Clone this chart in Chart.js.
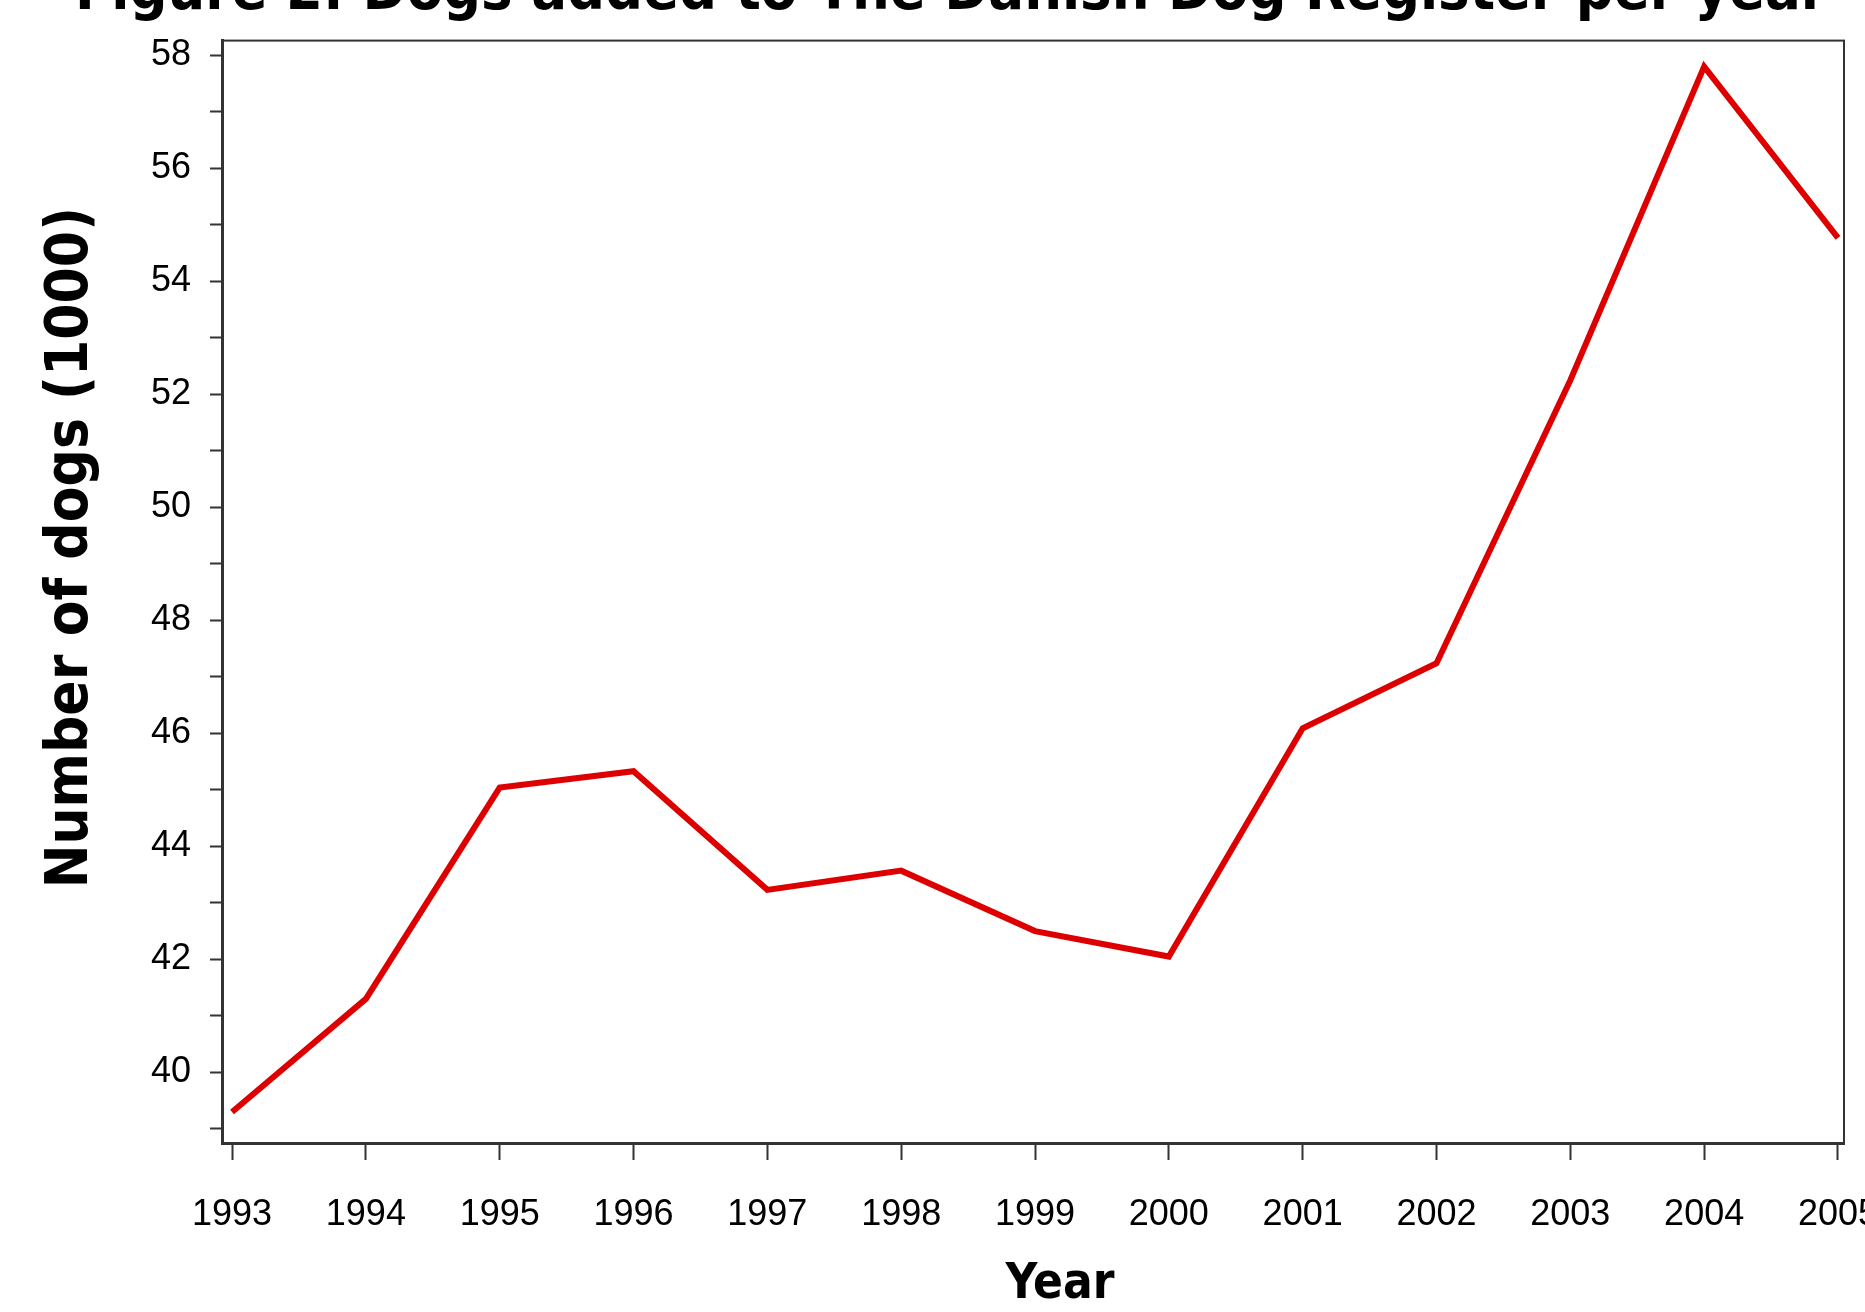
<!DOCTYPE html>
<html>
<head>
<meta charset="utf-8">
<script src="https://cdn.jsdelivr.net/npm/chart.js"></script>
<style>
    html, body { margin: 0; padding: 0; background: #fff; }
    .wrap { width: 1865px; height: 1312px; overflow: hidden; position: relative; }
</style>
</head>
<body>
<div class="wrap">
    <canvas id="dogChart" width="1865" height="1312"></canvas>
</div>
<script>
// Data (thousands of dogs)
const years = [1993, 1994, 1995, 1996, 1997, 1998, 1999, 2000, 2001, 2002, 2003, 2004, 2005];
const dogs = [39.3, 41.3, 45.04, 45.33, 43.23, 43.57, 42.5, 42.05, 46.09, 47.24, 52.25, 57.8, 54.77];
const yTicks = [39, 40, 41, 42, 43, 44, 45, 46, 47, 48, 49, 50, 51, 52, 53, 54, 55, 56, 57, 58];

const titleText = 'Figure 2: Dogs added to The Danish Dog Register per year';
const xTitle = 'Year';
const yTitle = 'Number of dogs (1000)';

const boldFont = '"DejaVu Sans Condensed", "DejaVu Sans", sans-serif';

// frame round the plot + axis titles
const framePlugin = {
    id: 'frame',
    afterDraw(chart) {
        const ctx = chart.ctx;
        const a = chart.chartArea;
        ctx.save();
        ctx.strokeStyle = '#333';
        ctx.lineWidth = 2;
        ctx.strokeRect(a.left, a.top, a.right - a.left, a.bottom - a.top);

        ctx.fillStyle = '#000';
        ctx.font = 'bold 49px ' + boldFont;
        ctx.textAlign = 'center';
        ctx.textBaseline = 'alphabetic';
        ctx.fillText(xTitle, a.left + 838, 1298);

        ctx.font = 'bold 58px ' + boldFont;
        ctx.translate(87, a.top + 507);
        ctx.rotate(-Math.PI / 2);
        ctx.fillText(yTitle, 0, 0);
        ctx.restore();
    }
};

const ctx = document.getElementById('dogChart').getContext('2d');
new Chart(ctx, {
    type: 'line',
    data: {
        datasets: [{
            label: 'Dogs',
            data: years.map((y, i) => ({ x: y, y: dogs[i] })),
            borderColor: 'rgb(222, 0, 0)',
            borderWidth: 6,
            pointRadius: 0,
            tension: 0,
            fill: false
        }]
    },
    options: {
        responsive: false,
        animation: false,
        layout: { padding: { left: 58, right: 21, top: 0, bottom: 0 } },
        plugins: {
            legend: { display: false },
            tooltip: { enabled: false },
            title: {
                display: true,
                text: titleText,
                color: '#000',
                font: { family: boldFont, size: 59, weight: 'bold' },
                padding: { top: -47, bottom: 12 }
            }
        },
        scales: {
            x: {
                type: 'linear',
                min: 1992.925,
                max: 2005.045,
                afterBuildTicks: axis => { axis.ticks = years.map(v => ({ value: v })); },
                afterFit: axis => { axis.height = 169; axis.paddingLeft = 0; axis.paddingRight = 0; },
                grid: { drawOnChartArea: false, tickLength: 17, color: '#333', tickWidth: 2 },
                border: { color: '#333', width: 3 },
                ticks: {
                    color: '#000',
                    padding: 33,
                    maxRotation: 0,
                    autoSkip: false,
                    font: { family: '"Liberation Sans", Arial, sans-serif', size: 36 },
                    callback: v => String(v)
                }
            },
            y: {
                min: 38.75,
                max: 58.26,
                afterBuildTicks: axis => { axis.ticks = yTicks.map(v => ({ value: v })); },
                afterFit: axis => { axis.width = 164; },
                grid: { drawOnChartArea: false, tickLength: 12, color: '#333', tickWidth: 2 },
                border: { color: '#333', width: 3 },
                ticks: {
                    color: '#000',
                    padding: 19,
                    autoSkip: false,
                    font: { family: '"Liberation Sans", Arial, sans-serif', size: 36 },
                    callback: v => (v % 2 === 0 ? String(v) : '')
                }
            }
        }
    },
    plugins: [framePlugin]
});
</script>
</body>
</html>
